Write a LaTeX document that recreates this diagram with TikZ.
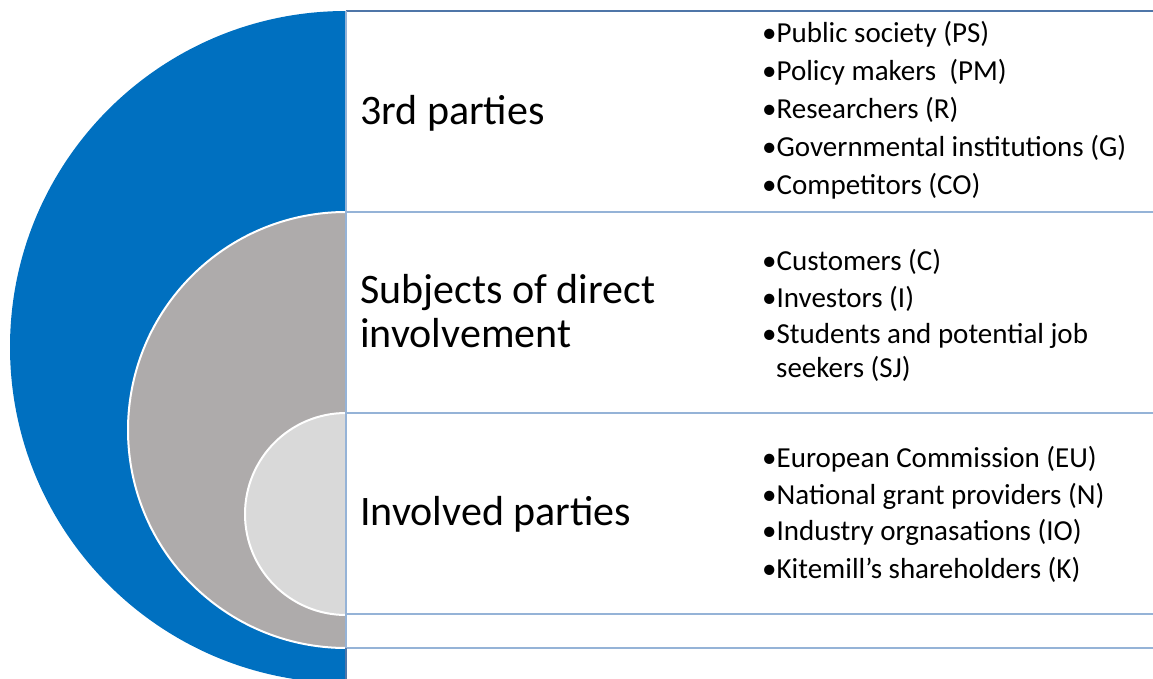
\documentclass[tikz,border=0pt]{standalone}
\usepackage{fontspec}
\setmainfont{Carlito}
\usepackage{tikz}

\definecolor{ringblue}{RGB}{0,112,192}
\definecolor{ringgrey}{RGB}{174,171,171}
\definecolor{ringlight}{RGB}{217,217,217}
\definecolor{rule}{RGB}{149,179,215}
\definecolor{ruledark}{RGB}{79,118,168}

\begin{document}
\begin{tikzpicture}[x=1pt, y=-1pt,
    head/.style={anchor=base west, inner sep=0pt, font=\fontsize{42}{46}\selectfont},
    item/.style={anchor=base west, inner sep=0pt, font=\fontsize{29}{33}\selectfont},
    sep/.style={draw=rule, line width=2.5pt}
  ]
  \useasboundingbox (0,0) rectangle (1153,679);

  % nested half discs, cut at the divider
  \begin{scope}
    \clip (0,0) rectangle (346,679);
    \fill[ringblue] (346,347) circle[radius=336];
    \filldraw[fill=ringgrey, draw=white, line width=2pt] (346,430) circle[radius=218];
    \filldraw[fill=ringlight, draw=white, line width=2pt] (346,514) circle[radius=101];
  \end{scope}

  % rows
  \draw[sep, draw=ruledark] (346,11) -- (1153,11);
  \draw[sep] (346,212) -- (1153,212);
  \draw[sep] (346,413) -- (1153,413);
  \draw[sep] (346,614) -- (1153,614);
  \draw[sep] (346,648) -- (1153,648);
  \draw[sep] (346,11) -- (346,648);
  \draw[sep, draw=ruledark] (346,648) -- (346,679);

  \node[head] (third)    at (360,125) {3rd parties};
  \node[head] (direct)   at (360,303) {Subjects of direct};
  \node[head] (directb)  at (360,347) {involvement};
  \node[head] (involved) at (360,525) {Involved parties};

  \node[item] (ps)   at (762,43)  {•Public society (PS)};
  \node[item] (pm)   at (762,81)  {•Policy makers\ \ (PM)};
  \node[item] (res)  at (762,119) {•Researchers (R)};
  \node[item] (gov)  at (762,157) {•Governmental institutions (G)};
  \node[item] (comp) at (762,195) {•Competitors (CO)};

  \node[item] (cust)  at (762,270) {•Customers (C)};
  \node[item] (inv)   at (762,307) {•Investors (I)};
  \node[item] (stud)  at (762,343) {•Students and potential job};
  \node[item] (studb) at (776,377) {seekers (SJ)};

  \node[item] (eu)   at (762,467) {•European Commission (EU)};
  \node[item] (nat)  at (762,504) {•National grant providers (N)};
  \node[item] (ind)  at (762,540) {•Industry orgnasations (IO)};
  \node[item] (kite) at (762,578) {•Kitemill’s shareholders (K)};
\end{tikzpicture}
\end{document}
